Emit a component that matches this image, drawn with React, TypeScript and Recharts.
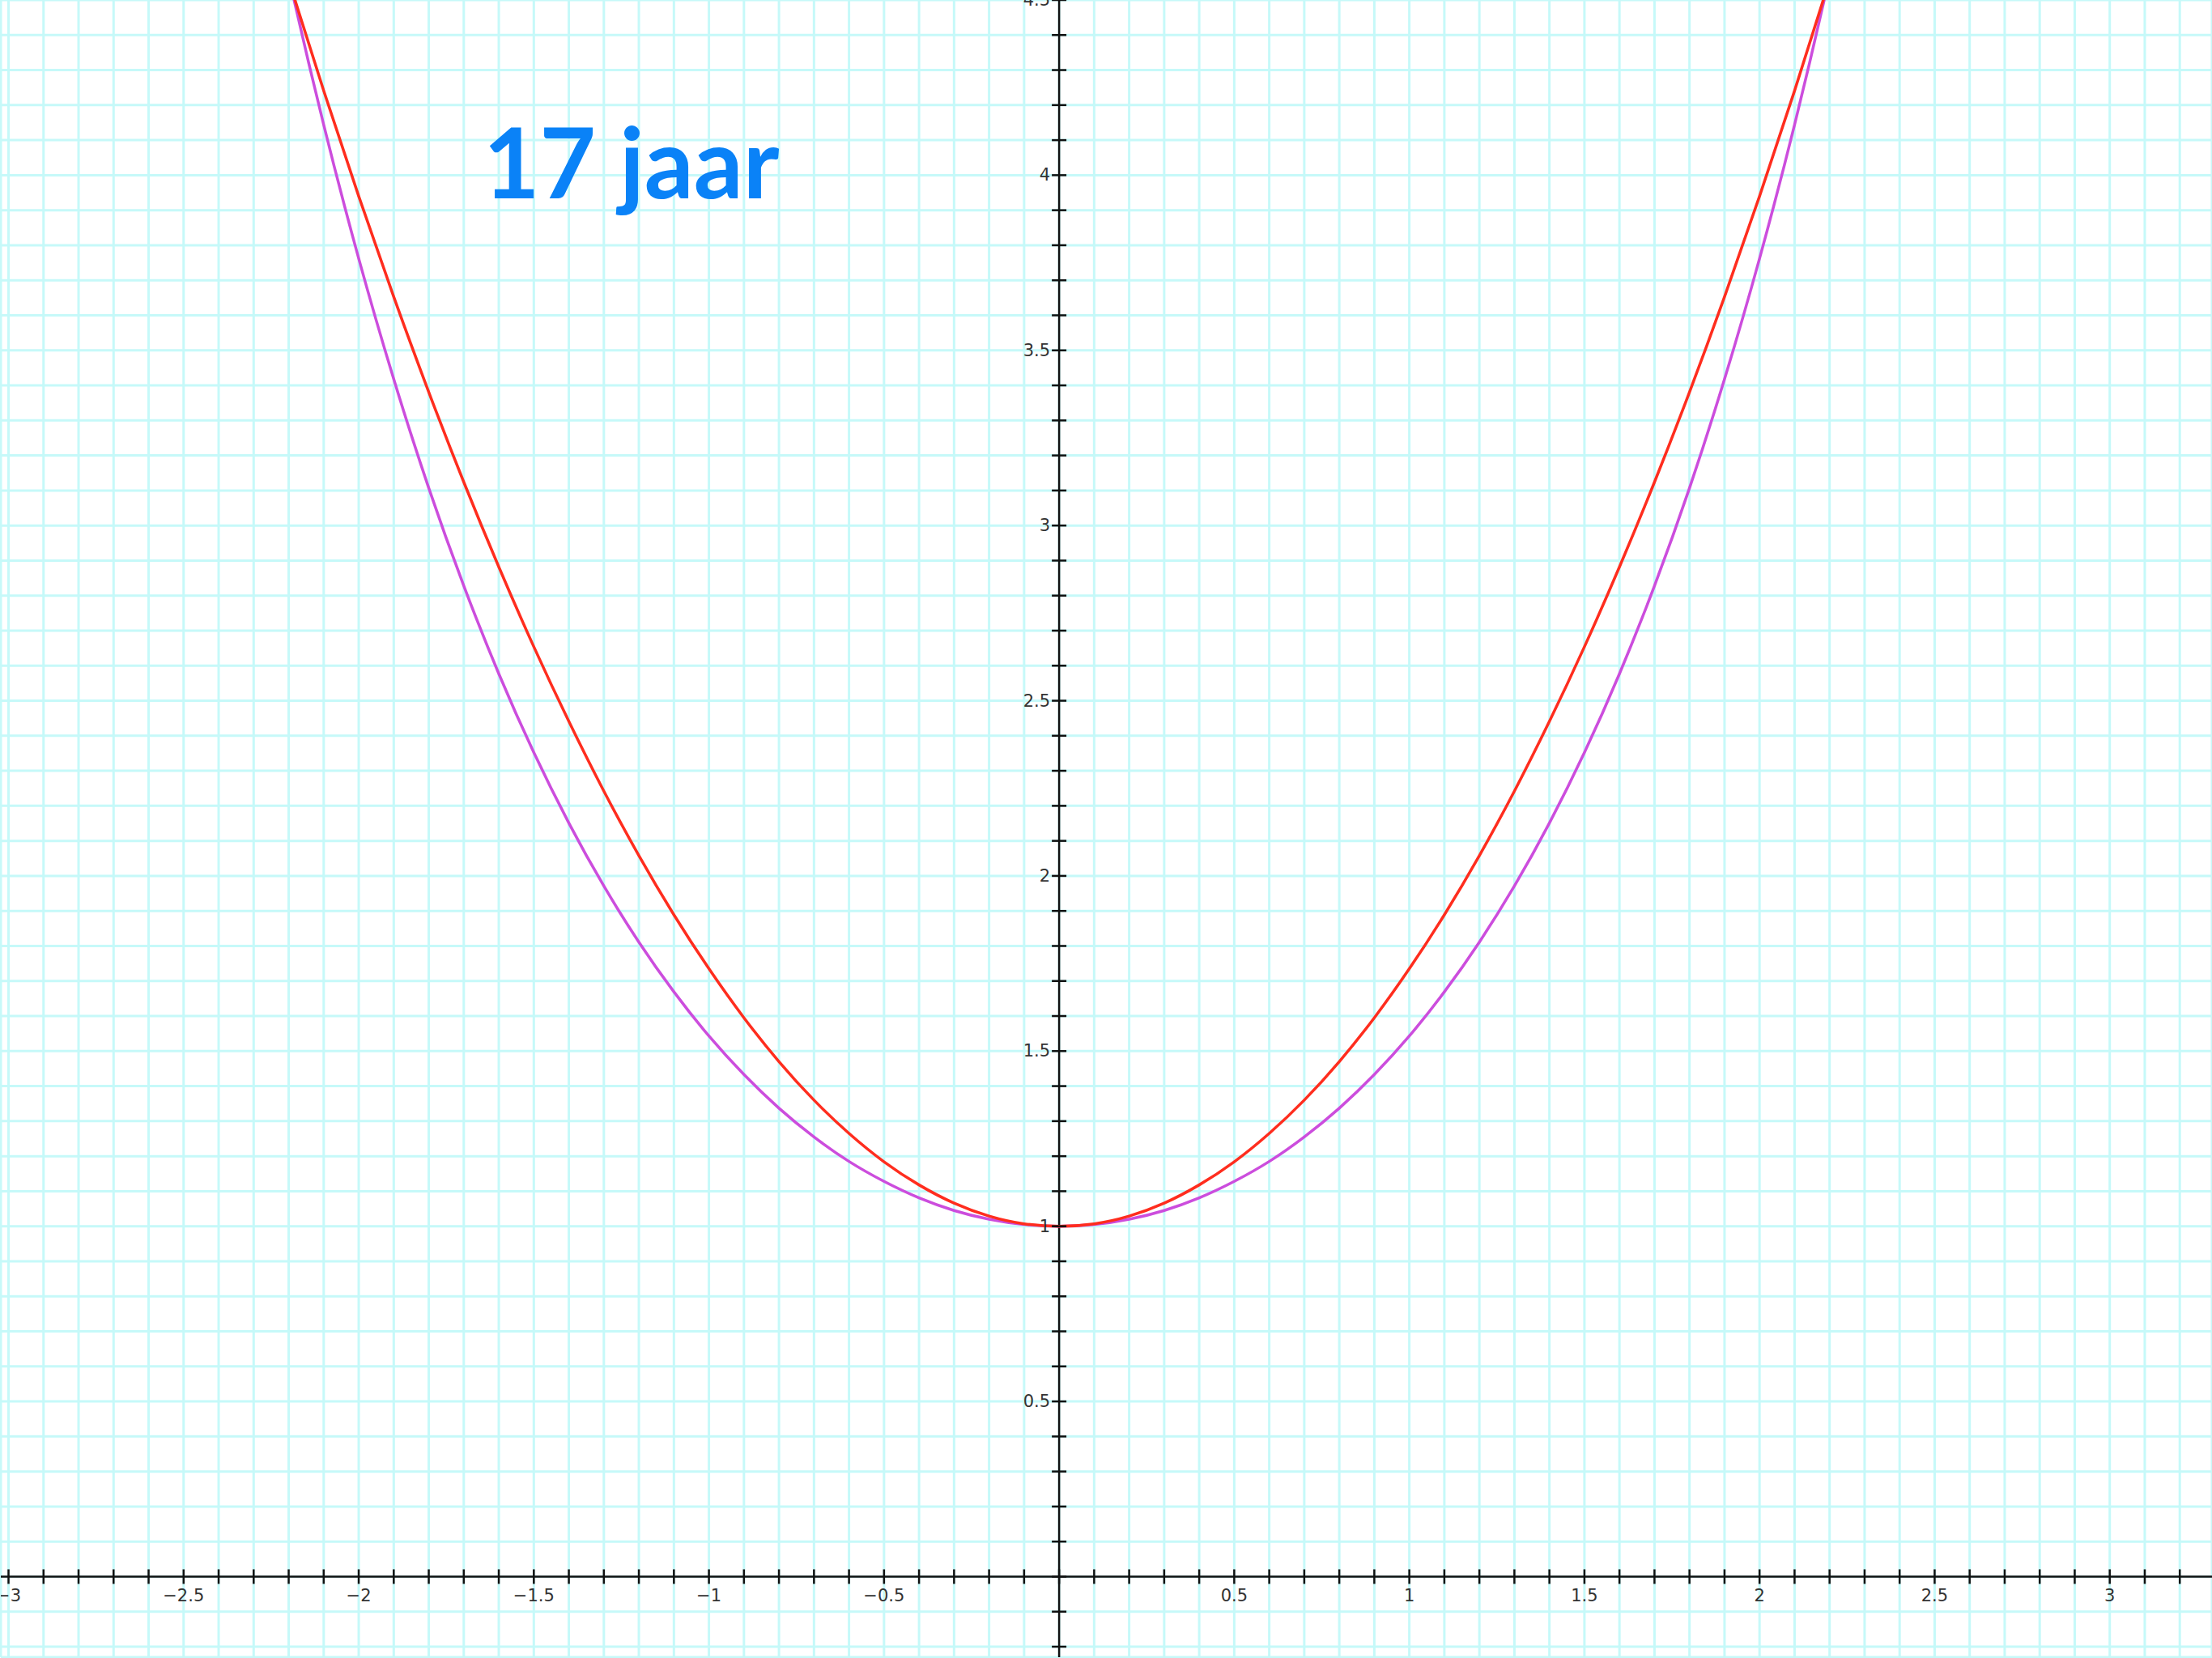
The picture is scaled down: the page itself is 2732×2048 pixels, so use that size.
import { CartesianGrid, ComposedChart, Line, ReferenceLine, Scatter, XAxis, YAxis } from 'recharts'

// sample points of both curves, x step 0.1
const xs = [
  -2.4, -2.3, -2.2, -2.1, -2.0, -1.9, -1.8, -1.7, -1.6, -1.5, -1.4, -1.3, -1.2, -1.1, -1.0, -0.9, -0.8,
  -0.7, -0.6, -0.5, -0.4, -0.3, -0.2, -0.1, 0, 0.1, 0.2, 0.3, 0.4, 0.5, 0.6, 0.7, 0.8, 0.9, 1.0, 1.1,
  1.2, 1.3, 1.4, 1.5, 1.6, 1.7, 1.8, 1.9, 2.0, 2.1, 2.2, 2.3, 2.4
]
const redValues = [
  5.234, 4.888, 4.557, 4.241, 3.94, 3.653, 3.381, 3.124, 2.882, 2.654, 2.441, 2.242, 2.058, 1.889,
  1.735, 1.595, 1.47, 1.36, 1.265, 1.184, 1.118, 1.066, 1.029, 1.007, 1.0, 1.007, 1.029, 1.066, 1.118,
  1.184, 1.265, 1.36, 1.47, 1.595, 1.735, 1.889, 2.058, 2.242, 2.441, 2.654, 2.882, 3.124, 3.381, 3.653,
  3.94, 4.241, 4.557, 4.888, 5.234
]
const magentaValues = [
  5.557, 5.037, 4.568, 4.144, 3.762, 3.418, 3.107, 2.828, 2.577, 2.352, 2.151, 1.971, 1.811, 1.669,
  1.543, 1.433, 1.337, 1.255, 1.185, 1.128, 1.081, 1.045, 1.02, 1.005, 1.0, 1.005, 1.02, 1.045, 1.081,
  1.128, 1.185, 1.255, 1.337, 1.433, 1.543, 1.669, 1.811, 1.971, 2.151, 2.352, 2.577, 2.828, 3.107,
  3.418, 3.762, 4.144, 4.568, 5.037, 5.557
]

const xLabels = [-3, -2.5, -2, -1.5, -1, -0.5, 0.5, 1, 1.5, 2, 2.5, 3]
const yLabels = [0.5, 1, 1.5, 2, 2.5, 3, 3.5, 4, 4.5]

const X_DOMAIN: [number, number] = [-3.022, 3.292]
const Y_DOMAIN: [number, number] = [-0.23, 4.5]

const W = 2732
const H = 2048

// tenths inside a range, rounded to kill float noise
const tenths = (from: number, to: number) => {
  const out: number[] = []
  for (let i = Math.round(from * 10); i <= Math.round(to * 10); i++) out.push(i / 10)
  return out
}

const gridX = tenths(-3.0, 3.2)
const gridY = tenths(-0.2, 4.5)

const curveRows = xs.map((x, i) => ({ x, red: redValues[i], magenta: magentaValues[i] }))
const xTickRows = gridX.map((x) => ({ x, y: 0 }))
const yTickRows = gridY.map((y) => ({ x: 0, y }))

const fmt = (v: number) => (v < 0 ? '\u2212' + String(-v) : String(v))

const labelStyle = { fontFamily: 'DejaVu Sans, sans-serif', fontSize: 21, fill: '#333' }

// axis ticks stay invisible, they only feed the grid
const NoTick = () => <g />

const XTick = (props: any) => {
  const { cx, cy, payload } = props
  const v = payload.x
  const labelled = xLabels.some((l) => Math.abs(l - v) < 1e-6)
  return (
    <g>
      <line x1={cx} x2={cx} y1={cy - 9} y2={cy + 9} stroke="#111" strokeWidth={2.5} />
      {labelled && (
        <text x={cx} y={cy + 31} textAnchor="middle" {...labelStyle}>
          {fmt(v)}
        </text>
      )}
    </g>
  )
}

const YTick = (props: any) => {
  const { cx, cy, payload } = props
  const v = payload.y
  const labelled = yLabels.some((l) => Math.abs(l - v) < 1e-6)
  return (
    <g>
      <line x1={cx - 9} x2={cx + 9} y1={cy} y2={cy} stroke="#111" strokeWidth={2.5} />
      {labelled && (
        <text x={cx - 11} y={cy + 7} textAnchor="end" {...labelStyle}>
          {fmt(v)}
        </text>
      )}
    </g>
  )
}

export default function App() {
  return (
    <div style={{ position: 'fixed', top: 0, left: 0, width: W, height: H, background: '#fff' }}>
      <ComposedChart width={W} height={H} data={curveRows} margin={{ top: 0, right: 0, left: 0, bottom: 0 }}>
        <CartesianGrid stroke="#c6f9f9" strokeWidth={3} />
        <XAxis
          type="number"
          dataKey="x"
          domain={X_DOMAIN}
          allowDataOverflow
          ticks={gridX}
          interval={0}
          height={1}
          axisLine={false}
          tickLine={false}
          tick={NoTick}
        />
        <YAxis
          type="number"
          domain={Y_DOMAIN}
          allowDataOverflow
          ticks={gridY}
          interval={0}
          width={1}
          axisLine={false}
          tickLine={false}
          tick={NoTick}
        />
        <ReferenceLine y={0} stroke="#111" strokeWidth={2.5} />
        <ReferenceLine x={0} stroke="#111" strokeWidth={2.5} />
        <Scatter data={xTickRows} dataKey="y" shape={XTick} isAnimationActive={false} />
        <Scatter data={yTickRows} dataKey="y" shape={YTick} isAnimationActive={false} />
        <Line
          type="monotone"
          dataKey="magenta"
          stroke="#cc4ddd"
          strokeWidth={3.5}
          dot={false}
          activeDot={false}
          isAnimationActive={false}
        />
        <Line
          type="monotone"
          dataKey="red"
          stroke="#ff2d1e"
          strokeWidth={3.5}
          dot={false}
          activeDot={false}
          isAnimationActive={false}
        />
      </ComposedChart>
      <svg width={W} height={H} style={{ position: 'absolute', top: 0, left: 0, pointerEvents: 'none' }}>
        <text x={597} y={245} fontFamily="Lato, sans-serif" fontWeight={700} fontSize={120} fill="#0a82f7">
          17 jaar
        </text>
      </svg>
    </div>
  )
}
